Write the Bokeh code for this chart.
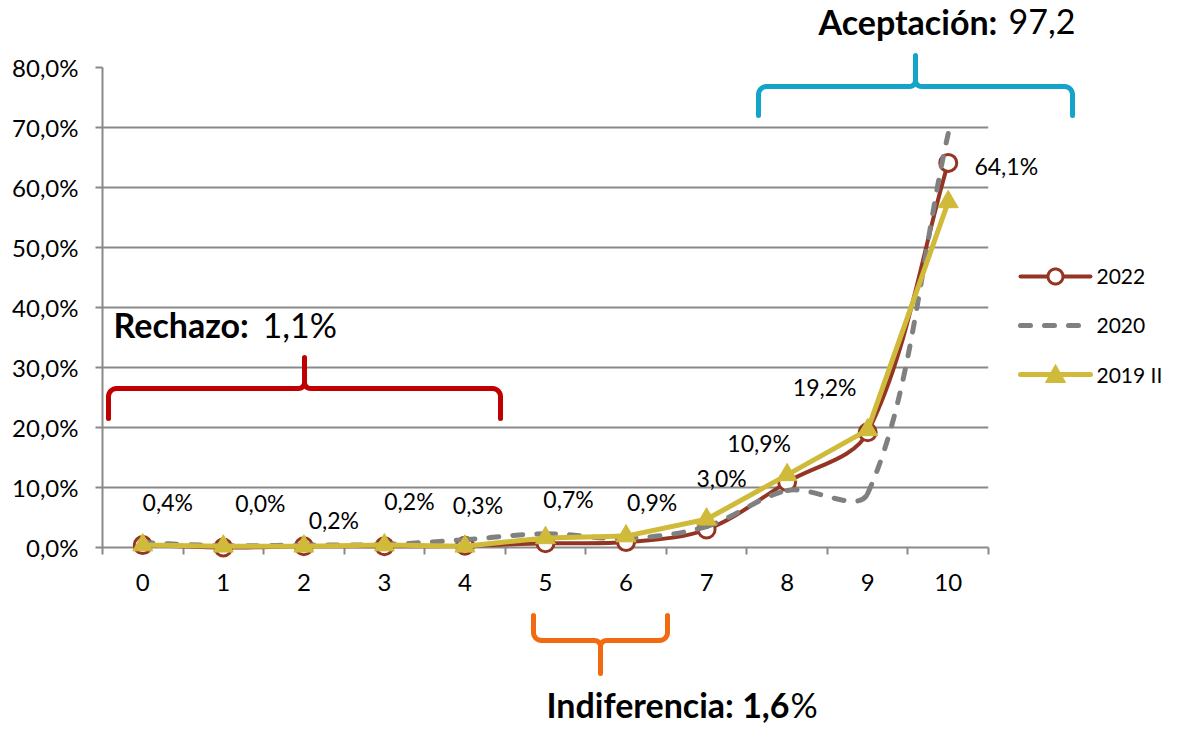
import math
from bokeh.plotting import figure
from bokeh.models import Range1d, FixedTicker, ColumnDataSource
from bokeh.embed import file_html
from bokeh.resources import INLINE
from bokeh.core.properties import value

# ---------------- data ----------------
categories = [0, 1, 2, 3, 4, 5, 6, 7, 8, 9, 10]
s2022 = [0.4, 0.0, 0.2, 0.2, 0.3, 0.7, 0.9, 3.0, 10.9, 19.2, 64.1]
s2020 = [0.8, 0.3, 0.4, 0.5, 1.3, 2.3, 1.5, 3.5, 9.5, 9.0, 69.0]
s2019 = [0.4, 0.2, 0.2, 0.4, 0.2, 1.6, 1.9, 4.7, 12.1, 19.6, 57.6]
series_names = ["2022", "2020", "2019 II"]
y_ticks = [0, 10, 20, 30, 40, 50, 60, 70, 80]
y_tick_labels = ["0,0%", "10,0%", "20,0%", "30,0%", "40,0%", "50,0%", "60,0%", "70,0%", "80,0%"]
x_tick_labels = [str(c) for c in categories]
group_titles = [("Rechazo:", "1,1%"), ("Aceptación:", "97,2"), ("Indiferencia: 1,6", "%")]

# ---------------- layout / style ----------------
W, H = 1164, 726
FL, FR, FT, FB = 102, 988, 67, 547          # frame edges in canvas pixels
X0, X1 = -0.5, 10.5
Y0, Y1 = 0, 80
PXX = (FR - FL) / (X1 - X0)
PXY = (FB - FT) / (Y1 - Y0)


def px_x(ix):
    return X0 + (ix - FL) / PXX


def px_y(iy):
    return Y0 + (FB - iy) / PXY


C2022 = "#943524"
C2020 = "#808080"
C2019 = "#cfba3a"
GRID = "#898989"
FONT = "Lato"
DASH = "10 14"

p = figure(width=W, height=H, output_backend="svg", toolbar_location=None,
           x_range=Range1d(X0, X1), y_range=Range1d(Y0, Y1),
           min_border_left=FL, min_border_right=W - FR,
           min_border_top=FT, min_border_bottom=H - FB)
p.outline_line_color = None
p.background_fill_color = "white"
p.border_fill_color = "white"

# axes
p.yaxis.ticker = FixedTicker(ticks=y_ticks, minor_ticks=[])
p.yaxis.major_label_overrides = {t: l for t, l in zip(y_ticks, y_tick_labels)}
p.yaxis.axis_line_color = GRID
p.yaxis.axis_line_width = 2
p.yaxis.major_tick_line_color = GRID
p.yaxis.major_tick_line_width = 2
p.yaxis.major_tick_out = 7
p.yaxis.major_tick_in = 0
p.yaxis.minor_tick_out = 0
p.yaxis.major_label_standoff = 17
p.yaxis.major_label_text_font = FONT
p.yaxis.major_label_text_font_size = "24px"
p.yaxis.major_label_text_color = "black"

minor = [c - 0.5 for c in categories] + [categories[-1] + 0.5]
p.xaxis.ticker = FixedTicker(ticks=categories, minor_ticks=minor)
p.xaxis.major_label_overrides = {c: l for c, l in zip(categories, x_tick_labels)}
p.xaxis.axis_line_color = GRID
p.xaxis.axis_line_width = 2
p.xaxis.major_tick_out = 0
p.xaxis.major_tick_in = 0
p.xaxis.minor_tick_line_color = GRID
p.xaxis.minor_tick_line_width = 2
p.xaxis.minor_tick_out = 7
p.xaxis.minor_tick_in = 0
p.xaxis.major_label_standoff = 19
p.xaxis.major_label_text_font = FONT
p.xaxis.major_label_text_font_size = "24px"
p.xaxis.major_label_text_color = "black"

p.xgrid.visible = False
p.ygrid.ticker = FixedTicker(ticks=y_ticks, minor_ticks=[])
p.ygrid.grid_line_color = GRID
p.ygrid.grid_line_width = 2


# Excel-like smoothed line: cubic Bezier segments computed from the data
def smooth_source(xs, ys):
    P = [(x * PXX, y * PXY) for x, y in zip(xs, ys)]
    n = len(P)
    d = dict(x0=[], y0=[], x1=[], y1=[], cx0=[], cy0=[], cx1=[], cy1=[])
    for i in range(n - 1):
        p0 = P[i - 1] if i > 0 else P[i]
        p1, p2 = P[i], P[i + 1]
        p3 = P[i + 2] if i + 2 < n else P[i + 1]
        d01 = math.dist(p0, p1)
        d12 = math.dist(p1, p2)
        d23 = math.dist(p2, p3)
        f1 = d12 / (d01 + d12) / 3 if d01 + d12 > 0 else 0
        f2 = d12 / (d12 + d23) / 3 if d12 + d23 > 0 else 0
        c1 = (p1[0] + (p2[0] - p0[0]) * f1, p1[1] + (p2[1] - p0[1]) * f1)
        c2 = (p2[0] - (p3[0] - p1[0]) * f2, p2[1] - (p3[1] - p1[1]) * f2)
        d["x0"].append(p1[0] / PXX); d["y0"].append(p1[1] / PXY)
        d["x1"].append(p2[0] / PXX); d["y1"].append(p2[1] / PXY)
        d["cx0"].append(c1[0] / PXX); d["cy0"].append(c1[1] / PXY)
        d["cx1"].append(c2[0] / PXX); d["cy1"].append(c2[1] / PXY)
    return ColumnDataSource(d)


# 2022 smoothed line + open circles
p.bezier(x0="x0", y0="y0", x1="x1", y1="y1", cx0="cx0", cy0="cy0", cx1="cx1", cy1="cy1",
         source=smooth_source(categories, s2022), line_color=C2022, line_width=4,
         line_cap="round", level="overlay")
p.scatter(categories, s2022, marker="circle", size=17, line_color=C2022, line_width=3,
          fill_color="white", level="overlay")

# 2020 smoothed dashed line
p.bezier(x0="x0", y0="y0", x1="x1", y1="y1", cx0="cx0", cy0="cy0", cx1="cx1", cy1="cy1",
         source=smooth_source(categories, s2020), line_color=C2020, line_width=5,
         line_dash=DASH, line_cap="round", level="overlay")

# 2019 II straight line + triangles
p.line(categories, s2019, line_color=C2019, line_width=5, line_join="round", level="overlay")
p.scatter(categories, s2019, marker="triangle", size=20, fill_color=C2019,
          line_color=C2019, level="overlay")

# data labels for 2022
lab_dx = [25, 37, 30, 25, 13, 23, 26, 15, -28, -43, 58]
lab_dy = [-43, -45, -26, -45, -41, -44, -40, -52, -39, -45, 3]
labels = [f"{v:.1f}".replace(".", ",") + "%" for v in s2022]
p.text(x=categories, y=s2022, text=labels, x_offset=lab_dx, y_offset=lab_dy,
       text_align="center", text_baseline="middle", text_font=value(FONT),
       text_font_size="23px", text_color="black", level="overlay")

# legend (drawn outside the plot frame, to the right)
LEG_X0, LEG_X1, LEG_TX = 1020, 1090, 1096
leg_rows = [276, 325, 374]
leg_styles = [
    dict(color=C2022, width=4, dash="solid", marker="circle"),
    dict(color=C2020, width=5, dash=DASH, marker=None),
    dict(color=C2019, width=5, dash="solid", marker="triangle"),
]
for name, row, st in zip(series_names, leg_rows, leg_styles):
    p.line([px_x(LEG_X0), px_x(LEG_X1)], [px_y(row), px_y(row)], line_color=st["color"],
           line_width=st["width"], line_dash=st["dash"], line_cap="round", level="overlay")
    mx = (LEG_X0 + LEG_X1) / 2
    if st["marker"] == "circle":
        ang = [2 * math.pi * k / 36 for k in range(36)]
        p.patch([px_x(mx + 7.5 * math.cos(a)) for a in ang],
                [px_y(row + 7.5 * math.sin(a)) for a in ang],
                fill_color="white", line_color=st["color"], line_width=3, level="overlay")
    elif st["marker"] == "triangle":
        tri = [(mx - 10, row + 8), (mx + 10, row + 8), (mx, row - 10)]
        p.patch([px_x(x) for x, _ in tri], [px_y(y) for _, y in tri],
                fill_color=st["color"], line_color=st["color"], line_width=1, level="overlay")
    p.text(x=[px_x(LEG_TX)], y=[px_y(row)], text=[name], text_align="left",
           text_baseline="middle", text_font=value(FONT), text_font_size="21px",
           text_color="black", level="overlay")


# curly braces (decorations)
def brace(cx, cy, half_w, end_len, tip_len, direction, color):
    # direction=+1: tip points up, ends point down (screen)
    r = 8
    pts = []
    s = direction
    pts.append((cx - half_w, cy + s * end_len))
    pts.append((cx - half_w, cy + s * r))
    for k in range(1, 9):
        a = math.pi / 2 * k / 8
        pts.append((cx - half_w + r - r * math.cos(a), cy + s * r - s * r * math.sin(a)))
    r2 = 6
    pts.append((cx - r2, cy))
    for k in range(1, 9):
        a = math.pi / 2 * k / 8
        pts.append((cx - r2 + r2 * math.sin(a), cy - s * r2 + s * r2 * math.cos(a)))
    pts.append((cx, cy - s * tip_len))
    right = [(2 * cx - x, y) for (x, y) in reversed(pts)]
    pts = pts + right[1:]
    p.line([px_x(x) for x, _ in pts], [px_y(y) for _, y in pts], line_color=color,
           line_width=5, line_cap="round", line_join="round", level="overlay")


brace(304, 388, 196, 30, 31, 1, "#c00000")
brace(915, 86, 157, 29, 31, 1, "#14a3c9")
brace(600, 640, 67, 25, 33, -1, "#f26a10")

# group titles (bold part, regular part); positions are text middles
title_pos = [((113, 324), 262), ((818, 21), 1008), ((546, 704), 790)]
for (bold_t, reg_t), ((bx, by), rx) in zip(group_titles, title_pos):
    p.text(x=[px_x(bx)], y=[px_y(by)], text=[bold_t], text_font=value(FONT),
           text_font_style="bold", text_font_size="34px", text_baseline="middle",
           text_align="left", text_color="black", level="overlay")
    p.text(x=[px_x(rx)], y=[px_y(by)], text=[reg_t], text_font=value(FONT),
           text_font_size="34px", text_baseline="middle", text_align="left",
           text_color="black", level="overlay")

open("out.html", "w").write(file_html(p, INLINE))
